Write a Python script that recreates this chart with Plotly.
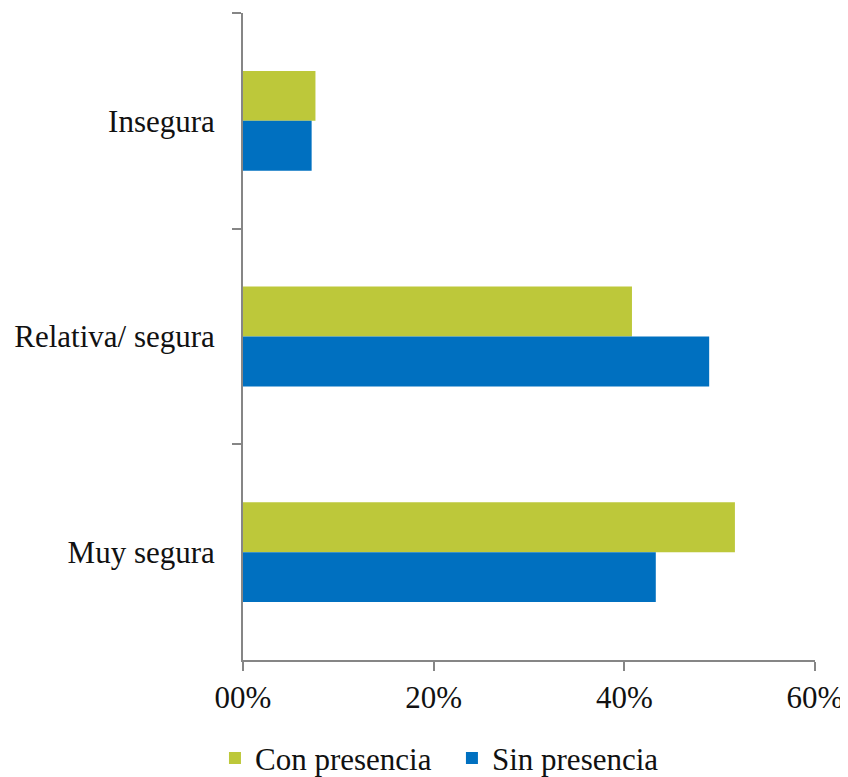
import plotly.graph_objects as go

categories = ["Insegura", "Relativa/ segura", "Muy segura"]
con_presencia = [7.6, 40.8, 51.6]
sin_presencia = [7.2, 48.9, 43.3]
x_tick_vals = [0, 20, 40, 60]
x_tick_text = ["00%", "20%", "40%", "60%"]

FONT = "'Liberation Serif', 'Times New Roman', 'DejaVu Serif', serif"
AXIS_COLOR = "#868686"
FS = 31

fig = go.Figure()
fig.add_trace(go.Bar(y=categories, x=con_presencia, orientation="h",
                     name="Con presencia\u00a0\u00a0", marker=dict(color="#BDC83A", line=dict(width=0))))
fig.add_trace(go.Bar(y=categories, x=sin_presencia, orientation="h",
                     name="Sin presencia", marker=dict(color="#0070C0", line=dict(width=0))))

fig.update_layout(
    width=840, height=769,
    margin=dict(l=235, r=33, t=5, b=117, autoexpand=False),
    paper_bgcolor="white", plot_bgcolor="white",
    barmode="group", bargap=0.537, bargroupgap=0,
    font=dict(family=FONT, size=FS, color="#111111"),
    legend=dict(orientation="h", x=-0.049, xanchor="left", y=-0.152, yanchor="middle",
                font=dict(family=FONT, size=FS), itemwidth=30, traceorder="normal"),
)
fig.update_xaxes(range=[0, 60], tickvals=x_tick_vals, ticktext=x_tick_text, automargin=False,
                 showgrid=False, zeroline=False, showline=True, linecolor=AXIS_COLOR, linewidth=2,
                 ticks="outside", ticklen=9, tickwidth=2, tickcolor=AXIS_COLOR,
                 tickfont=dict(family=FONT, size=FS))
fig.update_yaxes(categoryorder="array", categoryarray=categories, range=[2.5, -0.5], automargin=False,
                 tickson="boundaries", showgrid=False, zeroline=False, showline=True,
                 linecolor=AXIS_COLOR, linewidth=2, ticks="outside", ticklen=9, tickwidth=2,
                 tickcolor=AXIS_COLOR, tickfont=dict(family=FONT, size=FS), ticklabelstandoff=20)

fig.write_html("out.html")
